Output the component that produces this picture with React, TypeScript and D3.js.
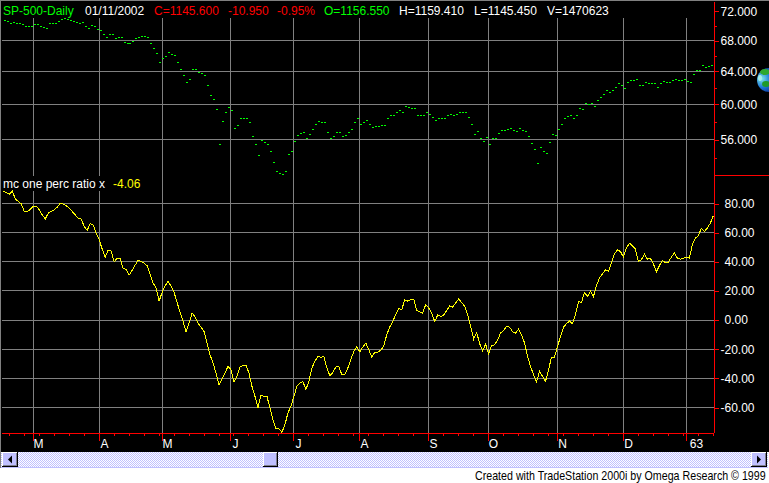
import React, { useEffect, useRef } from "react";
import * as d3 from "d3";

// close values per session (upper pane, log scale)
const closeDots = [
  70.75, 70.6, 70.35, 70.4, 70.35, 70.35, 70.2, 69.85, 69.95, 69.95, 70.2, 70.2, 69.95, 69.8, 69.65, 70.25,
  70.35, 70.35, 70.6, 70.9, 71.0, 70.9, 70.75, 70.6, 70.5, 70.35, 70.5, 69.95, 69.65, 70.0, 69.95, 69.5,
  69.4, 68.85, 68.45, 68.85, 68.85, 68.3, 68.45, 68.45, 67.75, 67.6, 67.6, 67.85, 68.3, 68.45, 68.6, 68.6,
  68.45, 67.6, 66.95, 66.3, 65.15, 65.7, 65.95, 66.45, 66.2, 66.05, 65.15, 64.25, 63.5, 62.65, 63.05, 64.25,
  64.25, 63.9, 63.75, 63.5, 62.3, 61.1, 60.6, 59.45, 55.45, 58.05, 59.0, 59.65, 59.3, 57.25, 57.6, 58.4,
  58.4, 58.4, 57.85, 56.35, 55.45, 54.3, 55.9, 55.7, 55.45, 54.7, 53.55, 52.6, 52.4, 52.25, 52.6, 54.4,
  54.7, 55.8, 56.45, 56.7, 56.8, 56.1, 56.55, 57.15, 57.7, 58.05, 57.85, 57.85, 56.8, 56.1, 56.35, 56.8,
  56.8, 56.35, 56.45, 56.8, 57.15, 57.85, 58.3, 57.7, 57.95, 58.15, 57.7, 57.35, 57.5, 57.5, 57.6,
  57.6, 58.3, 58.65, 58.65, 59.1, 59.3, 59.1, 59.8, 59.65, 59.55, 59.55, 58.75, 58.65, 58.65, 59.1, 58.8,
  58.5, 58.15, 58.4, 58.4, 58.4, 58.65, 58.85, 58.75, 58.85, 59.1, 59.0, 59.0, 58.5, 57.7, 56.55, 56.9,
  56.1, 55.8, 56.25, 55.45, 56.1, 56.1, 56.7, 57.05, 57.05, 57.15, 57.25, 57.05, 56.9, 57.25, 57.05, 56.9,
  56.35, 55.55, 54.95, 53.45, 55.15, 54.7, 54.5, 55.7, 56.55, 56.45, 57.15, 57.7, 58.4, 58.6, 58.75, 58.3,
  58.75, 59.55, 59.45, 60.1, 60.0, 60.1, 59.8, 60.5, 60.85, 61.2, 61.6, 61.35, 61.7, 62.05, 62.45, 62.3,
  61.95, 62.65, 62.9, 62.9, 63.05, 62.3, 62.3, 62.65, 62.45, 62.55, 62.45, 62.05, 62.55, 62.8, 62.65, 62.65,
  62.85, 63.05, 62.9, 62.9, 63.05, 62.75, 62.65, 63.65, 64.1, 64.1, 64.75, 64.5, 64.65, 64.75,
];

// mc one perc ratio x (lower pane)
const ratioLine = [
  88.5, 87.5, 86.4, 88.5, 83.2, 81.4, 79.8, 74.3, 74.3, 76.1, 78.2, 78.2, 75.7, 72.2, 69.3, 73.4,
  74.7, 75.7, 77.5, 80.2, 79.5, 78.4, 76.8, 74.5, 72.2, 69.9, 69.3, 64.2, 61.7, 66.1, 65.1, 59.7,
  55.1, 48.7, 43.2, 48.0, 47.3, 40.0, 42.5, 42.5, 35.2, 35.0, 30.9, 34.1, 37.7, 41.1, 40.0, 39.1,
  37.3, 31.5, 25.4, 21.9, 13.0, 19.0, 23.5, 26.7, 23.1, 19.0, 12.1, 5.3, -0.9, -8.2, -2.1, 4.8,
  2.1, -2.1, -4.8, -7.8, -15.8, -23.8, -29.5, -36.3, -44.6, -40.5, -36.3, -31.8, -34.1, -42.5, -38.6, -32.2,
  -31.1, -30.9, -36.3, -45.5, -52.3, -60.3, -51.4, -52.3, -52.3, -60.3, -68.3, -74.5, -74.7, -77.0, -71.8, -63.8,
  -59.2, -52.3, -45.5, -43.2, -42.1, -47.8, -42.1, -32.9, -28.3, -24.9, -25.6, -24.9, -32.9, -38.2, -35.9, -32.2,
  -32.2, -37.5, -37.5, -32.9, -27.2, -21.5, -18.1, -21.9, -18.5, -15.8, -20.3, -25.4, -22.2, -21.9, -20.8, -17.6,
  -10.1, -4.8, -0.9, 3.7, 7.8, 7.1, 13.9, 13.0, 13.9, 14.4, 6.6, 5.7, 4.8, 10.7, 8.2, 4.8,
  -0.9, 3.4, 2.5, 3.4, 6.6, 9.8, 8.9, 11.7, 14.4, 12.1, 9.4, 3.7, -4.3, -13.0, -8.5, -16.2,
  -21.0, -16.5, -23.3, -17.4, -17.1, -13.5, -8.9, -7.1, -4.3, -4.8, -8.0, -8.9, -6.2, -10.1, -15.8, -24.9,
  -31.8, -37.5, -42.5, -35.2, -38.6, -42.1, -34.1, -25.4, -25.4, -18.1, -11.2, -4.8, -2.5, -0.7, -2.5, 3.7,
  12.6, 12.1, 19.0, 16.2, 19.7, 16.2, 23.5, 28.8, 31.8, 34.5, 33.4, 39.1, 45.5, 48.2, 47.1, 43.2,
  49.4, 52.8, 51.0, 48.7, 40.2, 41.4, 45.3, 41.8, 42.3, 38.6, 33.1, 37.3, 40.9, 39.5, 39.8, 43.2,
  45.9, 42.5, 41.8, 42.5, 43.2, 42.5, 51.7, 56.2, 57.8, 63.1, 60.8, 63.1, 66.5, 71.5,
];

// bar index of the first session of each month, and the label under it
const monthBars = [10, 32, 53, 76, 97, 119, 142, 162, 185, 207, 228];
const monthLabels = ["M", "A", "M", "J", "J", "A", "S", "O", "N", "D", "63"];

const upperTicks = [72, 68, 64, 60, 56];
const upperMinor = [70, 66, 62, 58, 54];
const lowerTicks = [80, 60, 40, 20, 0, -20, -40, -60];

const header = [
  { text: "SP-500-Daily", x: 3, color: "#00ff00" },
  { text: "01/11/2002", x: 85, color: "#ffffff" },
  { text: "C=1145.600", x: 154, color: "#ff0000" },
  { text: "-10.950", x: 228, color: "#ff0000" },
  { text: "-0.95%", x: 277, color: "#ff0000" },
  { text: "O=1156.550", x: 324, color: "#00ff00" },
  { text: "H=1159.410", x: 399, color: "#ffffff" },
  { text: "L=1145.450", x: 474, color: "#ffffff" },
  { text: "V=1470623", x: 547, color: "#ffffff" },
];

const W = 769;
const H = 483;
const FONT = "'Liberation Sans', Arial, sans-serif";
const AXIS_X = 714;
const AXIS_Y = 433;
const snap = (v: number) => Math.floor(v) + 0.5;

const App = () => {
  const svgRef = useRef<SVGSVGElement | null>(null);

  useEffect(() => {
    if (!svgRef.current) return;
    const svg = d3.select(svgRef.current);
    svg.selectAll("*").remove();

    const x = d3.scaleLinear().domain([0, ratioLine.length - 1]).range([3.33, 713.3]);
    const xDots = d3.scaleLinear().domain([0, closeDots.length - 1]).range([4.67, 711.7]);
    const yUp = d3.scaleLog().domain([68, 56]).range([40.5, 139.5]);
    const yLow = d3.scaleLinear().domain([80, -60]).range([203.5, 407.5]);

    // chart background
    svg.append("rect").attr("width", W).attr("height", H).attr("fill", "#ffffff");
    svg.append("rect").attr("width", W).attr("height", 452).attr("fill", "#000000");
    svg.append("rect").attr("width", W).attr("height", 1).attr("fill", "#808080");
    svg.append("rect").attr("width", 1).attr("height", 468).attr("fill", "#808080");

    // grid
    const grid = svg.append("g").attr("stroke", "#808080").attr("shape-rendering", "crispEdges");
    monthBars.forEach((b) => {
      grid.append("line")
        .attr("x1", snap(x(b))).attr("x2", snap(x(b)))
        .attr("y1", 18).attr("y2", AXIS_Y);
    });
    upperTicks.slice(1).forEach((t) => {
      grid.append("line").attr("x1", 2).attr("x2", AXIS_X)
        .attr("y1", snap(yUp(t))).attr("y2", snap(yUp(t)));
    });
    lowerTicks.forEach((t) => {
      grid.append("line").attr("x1", 2).attr("x2", AXIS_X)
        .attr("y1", snap(yLow(t))).attr("y2", snap(yLow(t)));
    });

    // upper pane dots
    svg.append("g").attr("fill", "#00ff00").attr("shape-rendering", "crispEdges")
      .selectAll("rect")
      .data(closeDots)
      .enter()
      .append("rect")
      .attr("x", (_, i) => Math.round(xDots(i) - 1))
      .attr("y", (d) => Math.floor(yUp(d)))
      .attr("width", 2)
      .attr("height", 1);

    // label sits on its own black box, it cuts the grid
    svg.append("rect").attr("x", 1).attr("y", 176).attr("width", 141).attr("height", 15).attr("fill", "#000000");

    // lower pane line
    const line = d3.line<number>().x((_, i) => x(i)).y((d) => yLow(d));
    svg.append("path")
      .datum(ratioLine)
      .attr("fill", "none")
      .attr("stroke", "#ffff00")
      .attr("stroke-width", 1)
      .attr("shape-rendering", "crispEdges")
      .attr("d", line);

    // right axes
    const styleAxis = (g: any) => {
      g.select(".domain").remove();
      g.attr("font-family", FONT).attr("font-size", 12);
      g.selectAll("line").attr("stroke", "#ff0000").attr("shape-rendering", "crispEdges");
      g.selectAll("text").attr("fill", "#ffffff");
    };
    svg.append("g")
      .attr("transform", `translate(${AXIS_X + 0.5},0)`)
      .call(d3.axisRight(yUp).tickValues(upperTicks).tickSize(4).tickPadding(2).tickFormat((d) => (+d).toFixed(3)) as any)
      .call(styleAxis);
    svg.append("g")
      .attr("transform", `translate(${AXIS_X + 0.5},0)`)
      .call(d3.axisRight(yUp).tickValues(upperMinor).tickSize(2).tickFormat(() => "") as any)
      .call(styleAxis);
    const lowAxis = svg.append("g")
      .attr("transform", `translate(${AXIS_X + 0.5},0)`)
      .call(d3.axisRight(yLow).tickValues(lowerTicks).tickSize(4).tickPadding(2).tickFormat((d) => (+d).toFixed(2)) as any)
      .call(styleAxis);
    lowAxis.selectAll<SVGTextElement, number>("text").attr("x", (d) => (d < 0 ? 6 : 10));

    const red = svg.append("g").attr("stroke", "#ff0000").attr("shape-rendering", "crispEdges");
    red.append("line").attr("x1", AXIS_X + 0.5).attr("x2", AXIS_X + 0.5).attr("y1", 2).attr("y2", AXIS_Y);
    red.append("line").attr("x1", AXIS_X).attr("x2", W).attr("y1", 175.5).attr("y2", 175.5);

    // time axis
    red.append("line").attr("x1", 2).attr("x2", AXIS_X).attr("y1", AXIS_Y + 0.5).attr("y2", AXIS_Y + 0.5);
    d3.range(2, ratioLine.length, 5).forEach((b) => {
      red.append("line").attr("x1", snap(x(b))).attr("x2", snap(x(b))).attr("y1", AXIS_Y).attr("y2", AXIS_Y + 3);
    });
    monthBars.forEach((b, i) => {
      const label = monthLabels[i];
      red.append("line").attr("x1", snap(x(b))).attr("x2", snap(x(b))).attr("y1", AXIS_Y).attr("y2", AXIS_Y + 8);
      svg.append("text")
        .attr("x", snap(x(b)) + (label.length > 1 ? 10 : 5))
        .attr("y", 448)
        .attr("text-anchor", "middle")
        .attr("fill", "#ffffff")
        .attr("font-family", FONT)
        .attr("font-size", 12)
        .text(label);
    });

    // header
    header.forEach((h) => {
      svg.append("text")
        .attr("x", h.x).attr("y", 15)
        .attr("fill", h.color)
        .attr("font-family", FONT)
        .attr("font-size", 12)
        .text(h.text);
    });
    svg.append("text").attr("x", 3).attr("y", 188).attr("fill", "#ffffff")
      .attr("font-family", FONT).attr("font-size", 12).text("mc one perc ratio x");
    svg.append("text").attr("x", 113).attr("y", 188).attr("fill", "#ffff00")
      .attr("font-family", FONT).attr("font-size", 12).text("-4.06");

    // globe icon at the right edge
    const defs = svg.append("defs");
    const glow = defs.append("radialGradient").attr("id", "globe").attr("cx", "0.2").attr("cy", "0.45").attr("r", "0.7");
    glow.append("stop").attr("offset", "0").attr("stop-color", "#7fe8e8");
    glow.append("stop").attr("offset", "0.5").attr("stop-color", "#1c78d8");
    glow.append("stop").attr("offset", "1").attr("stop-color", "#0a2a90");
    svg.append("circle").attr("cx", 769).attr("cy", 80).attr("r", 12).attr("fill", "url(#globe)");
    svg.append("ellipse").attr("cx", 765).attr("cy", 72).attr("rx", 5).attr("ry", 3).attr("fill", "#2ea82e");
    svg.append("ellipse").attr("cx", 766).attr("cy", 84).attr("rx", 4).attr("ry", 3).attr("fill", "#1f9a2a");
    svg.append("ellipse").attr("cx", 760).attr("cy", 78).attr("rx", 2).attr("ry", 3).attr("fill", "#a8f0e8");

    // scrollbar
    const dither = defs.append("pattern").attr("id", "dither").attr("width", 2).attr("height", 2)
      .attr("patternUnits", "userSpaceOnUse");
    dither.append("rect").attr("width", 2).attr("height", 2).attr("fill", "#ffffff");
    dither.append("rect").attr("width", 1).attr("height", 1).attr("fill", "#c0c0ff");
    dither.append("rect").attr("x", 1).attr("y", 1).attr("width", 1).attr("height", 1).attr("fill", "#c0c0ff");
    svg.append("rect").attr("x", 1).attr("y", 452).attr("width", 767).attr("height", 15).attr("fill", "url(#dither)");
    svg.append("rect").attr("x", 1).attr("y", 467).attr("width", 767).attr("height", 1).attr("fill", "#c0c0ff");

    const button = (bx: number, bw: number) => {
      svg.append("rect").attr("x", bx).attr("y", 452).attr("width", bw).attr("height", 15).attr("fill", "#000000");
      svg.append("rect").attr("x", bx).attr("y", 452).attr("width", bw - 1).attr("height", 14).attr("fill", "#ffffff");
      svg.append("rect").attr("x", bx + 1).attr("y", 453).attr("width", bw - 2).attr("height", 13).attr("fill", "#808090");
      svg.append("rect").attr("x", bx + 1).attr("y", 453).attr("width", bw - 3).attr("height", 12).attr("fill", "#c0c0ff");
    };
    button(2, 16);
    button(263, 15);
    button(751, 16);
    svg.append("path").attr("d", "M12 455.5L12 463.5L8 459.5Z").attr("fill", "#000000");
    svg.append("path").attr("d", "M757 455.5L757 463.5L761 459.5Z").attr("fill", "#000000");

    // footer font is narrower than anything installed, squeeze it
    svg.append("text")
      .attr("transform", "translate(475,480) scale(0.89,1)")
      .attr("fill", "#000000")
      .attr("font-family", FONT)
      .attr("font-size", 12)
      .text("Created with TradeStation 2000i by Omega Research © 1999");
  }, []);

  return (
    <svg
      ref={svgRef}
      width={W}
      height={H}
      style={{ position: "absolute", left: 0, top: 0, display: "block" }}
    />
  );
};

export default App;
